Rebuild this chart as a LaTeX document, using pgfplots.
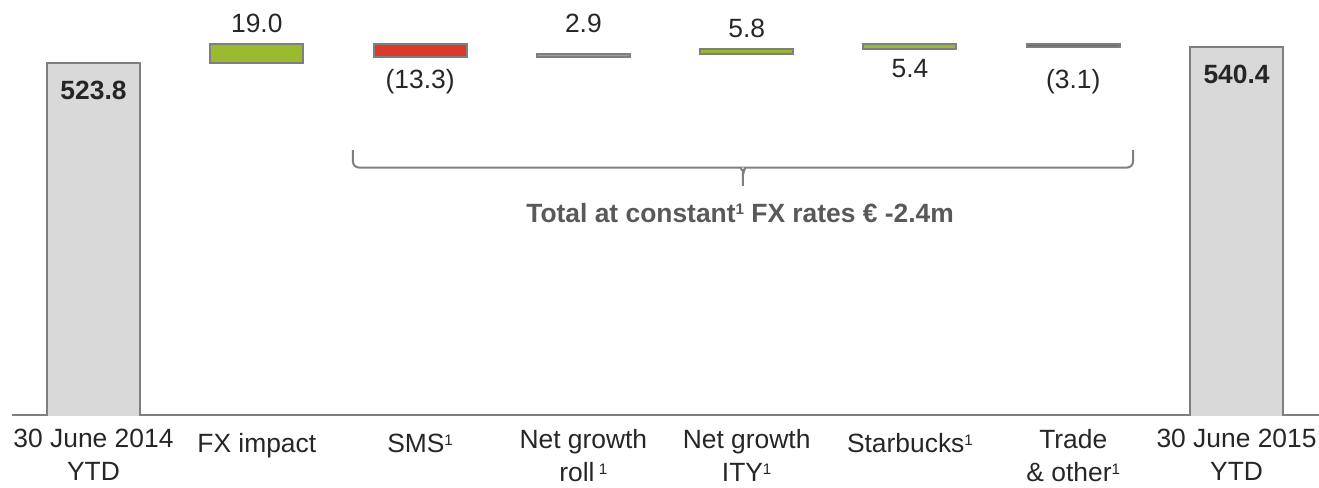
\documentclass[border=0pt]{standalone}
\usepackage{fontspec}
\setmainfont{Liberation Sans}
\usepackage{pgfplots}
\usepackage{pgfplotstable}
\pgfplotsset{compat=1.18}

\definecolor{barGreen}{HTML}{99BA2F}
\definecolor{barRed}{HTML}{DB3A2A}
\definecolor{barGray}{HTML}{D9D9D9}
\definecolor{edgeGray}{HTML}{7F7F7F}
\definecolor{txt}{HTML}{262626}
\definecolor{noteGray}{HTML}{595959}

% waterfall: invisible base + visible step
\pgfplotstableread{
x base total up down
0 0     523.8 0    0
1 523.8 0     19.0 0
2 529.5 0     0    13.3
3 529.5 0     2.9  0
4 532.4 0     5.8  0
5 538.2 0     5.4  0
6 540.5 0     0    3.1
7 0     540.4 0    0
}\bridge

\newcommand{\lblfont}{\fontsize{13.2}{16.5}\selectfont}
\newcommand{\fn}[1]{\raisebox{3.6pt}{\fontsize{7.6}{8}\selectfont #1}}

\begin{document}
\begin{tikzpicture}[lab/.style={font=\lblfont, text=txt, inner sep=0pt, anchor=base}]
\begin{axis}[
    name=ax,
    width=653.5pt, height=207.5pt, scale only axis,
    xmin=-0.4991, xmax=7.505,
    ymin=158.3, ymax=588.8,
    ybar stacked, bar width=46.5pt,
    axis y line=none, axis x line*=bottom,
    x axis line style={edgeGray, line width=0.7pt},
    xtick={0,...,7},
    xticklabels={{30 June 2014\\YTD}, FX impact, SMS\fn{1},
        {Net growth\\roll\,\fn{1}}, {Net growth\\ITY\fn{1}},
        Starbucks\fn{1}, {Trade\\\& other\fn{1}},
        {30 June 2015\\YTD}},
    major tick length=0pt,
    xticklabel style={font=\lblfont, text=txt, align=center, inner sep=0pt,
        anchor=north, yshift=-6.9pt, execute at begin node=\strut},
    every axis plot/.append style={line width=1pt},
]
\addplot[draw=none, fill=none] table[x=x, y=base] {\bridge};
\addplot[fill=barGray, draw=edgeGray] table[x=x, y=total] {\bridge};
\addplot[fill=barGreen, draw=edgeGray] table[x=x, y=up] {\bridge};
\addplot[fill=barRed, draw=edgeGray] table[x=x, y=down] {\bridge};

% label anchors (text is set after the axis, above the bars)
\coordinate (l0) at (axis cs:0,485.1);
\coordinate (l1) at (axis cs:1,555.2);
\coordinate (l2) at (axis cs:2,496.5);
\coordinate (l3) at (axis cs:3,555.2);
\coordinate (l4) at (axis cs:4,550.4);
\coordinate (l5) at (axis cs:5,507.9);
\coordinate (l6) at (axis cs:6,497.0);
\coordinate (l7) at (axis cs:7,501.7);
\coordinate (tot) at (axis cs:3.96,358.5);

% bracket over the constant-FX items
\draw[edgeGray, line width=1pt, rounded corners=3pt]
    (axis cs:1.589,433.2) |- (axis cs:3.93,415) to[out=0,in=90] (axis cs:3.977,406) -- (axis cs:3.977,395.9);
\draw[edgeGray, line width=1pt, rounded corners=3pt]
    (axis cs:6.366,433.2) |- (axis cs:4.024,415) to[out=180,in=90] (axis cs:3.977,406);
\end{axis}
\node[lab, font=\lblfont\bfseries] at (l0) {523.8};
\node[lab] at (l1) {19.0};
\node[lab] at (l2) {(13.3)};
\node[lab] at (l3) {2.9};
\node[lab] at (l4) {5.8};
\node[lab] at (l5) {5.4};
\node[lab] at (l6) {(3.1)};
\node[lab, font=\lblfont\bfseries] at (l7) {540.4};
\node[lab, font=\lblfont\bfseries, text=noteGray] at (tot)
    {Total at constant\fn{1} FX rates € -2.4m};
\pgfresetboundingbox
\path[use as bounding box] ([xshift=-6pt,yshift=-36pt]ax.south west) rectangle (ax.north east);
\end{tikzpicture}
\end{document}
